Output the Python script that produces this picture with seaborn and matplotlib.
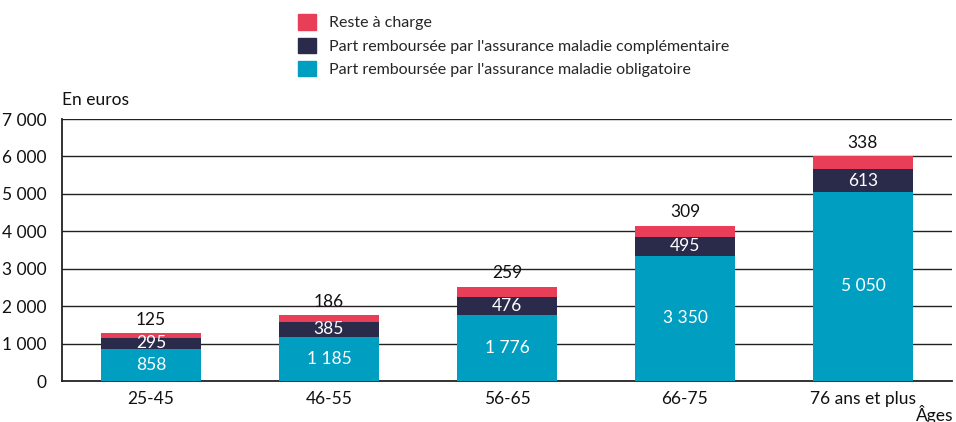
import matplotlib
matplotlib.use("Agg")
import matplotlib.pyplot as plt
import seaborn as sns
import pandas as pd
import numpy as np
from matplotlib.patches import Patch

categories = ["25-45", "46-55", "56-65", "66-75", "76 ans et plus"]
amo = [858, 1185, 1776, 3350, 5050]
amc = [295, 385, 476, 495, 613]
rac = [125, 186, 259, 309, 338]
yticks = [0, 1000, 2000, 3000, 4000, 5000, 6000, 7000]

c_rac = "#E83E58"
c_amc = "#2A2A4A"
c_amo = "#009FC2"

sns.set_theme(style="white")
plt.rcParams['font.family'] = ['Lato', 'DejaVu Sans']

def fmt(v):
    return f"{v:,}".replace(",", " ")

df = pd.DataFrame({"cat": categories, "amo": amo, "amc": amc, "rac": rac})
df["s2"] = df["amo"] + df["amc"]
df["s3"] = df["s2"] + df["rac"]

fig = plt.figure(figsize=(9.56, 4.22), dpi=100)
ax = fig.add_axes([62/956, 1-381/422, (952-62)/956, (381-119)/422])

for y in yticks[1:]:
    ax.axhline(y, color="#222222", lw=1.0, zorder=0)

w = 0.56
kw = dict(saturation=1, width=w, ax=ax, linewidth=0, edgecolor="none")
sns.barplot(data=df, x="cat", y="s3", color=c_rac, zorder=2, **kw)
sns.barplot(data=df, x="cat", y="s2", color=c_amc, zorder=3, **kw)
sns.barplot(data=df, x="cat", y="amo", color=c_amo, zorder=4, **kw)

fs = 12.5
for i, r in df.iterrows():
    ax.text(i, r["amo"]/2, fmt(r["amo"]), ha="center", va="center", color="white", fontsize=fs, zorder=5)
    ax.text(i, r["amo"] + r["amc"]/2, fmt(r["amc"]), ha="center", va="center", color="white", fontsize=fs, zorder=5)
    ax.text(i, r["s3"] + 150, fmt(r["rac"]), ha="center", va="bottom", color="#111111", fontsize=fs, zorder=5)

ax.set_xlim(-0.5, 4.5)
ax.set_ylim(0, 7000)
ax.set_yticks(yticks)
ax.set_yticklabels([fmt(v) for v in yticks], fontsize=fs, color="#111111")
ax.set_xticks(range(len(categories)))
ax.set_xticklabels(categories, fontsize=fs, color="#111111")
ax.set_xticks(np.arange(-0.5, 5.0, 1.0), minor=True)
ax.tick_params(axis="x", which="major", length=0, pad=7)
ax.tick_params(axis="x", which="minor", length=5, width=1.2, color="#222222", direction="out")
ax.tick_params(axis="y", length=0, pad=11)
ax.set_xlabel("")
ax.set_ylabel("")
for s in ["top", "right"]:
    ax.spines[s].set_visible(False)
for s in ["left", "bottom"]:
    ax.spines[s].set_visible(True)
    ax.spines[s].set_color("#222222")
    ax.spines[s].set_linewidth(1.3)

fig.text(62/956, 1-100/422, "En euros", ha="left", va="center", fontsize=fs, color="#111111")
fig.text(953/956, 1-414/422, "Âges", ha="right", va="center", fontsize=fs, color="#111111")

handles = [Patch(color=c_rac), Patch(color=c_amc), Patch(color=c_amo)]
labels = ["Reste à charge",
          "Part remboursée par l'assurance maladie complémentaire",
          "Part remboursée par l'assurance maladie obligatoire"]
fig.legend(handles, labels, loc="upper left", bbox_to_anchor=(292/956, 1-8/422),
           frameon=False, fontsize=11.5, handlelength=1.1, handleheight=1.1,
           handletextpad=0.8, labelspacing=0.45, borderaxespad=0)

fig.savefig("out.png", dpi=100)
